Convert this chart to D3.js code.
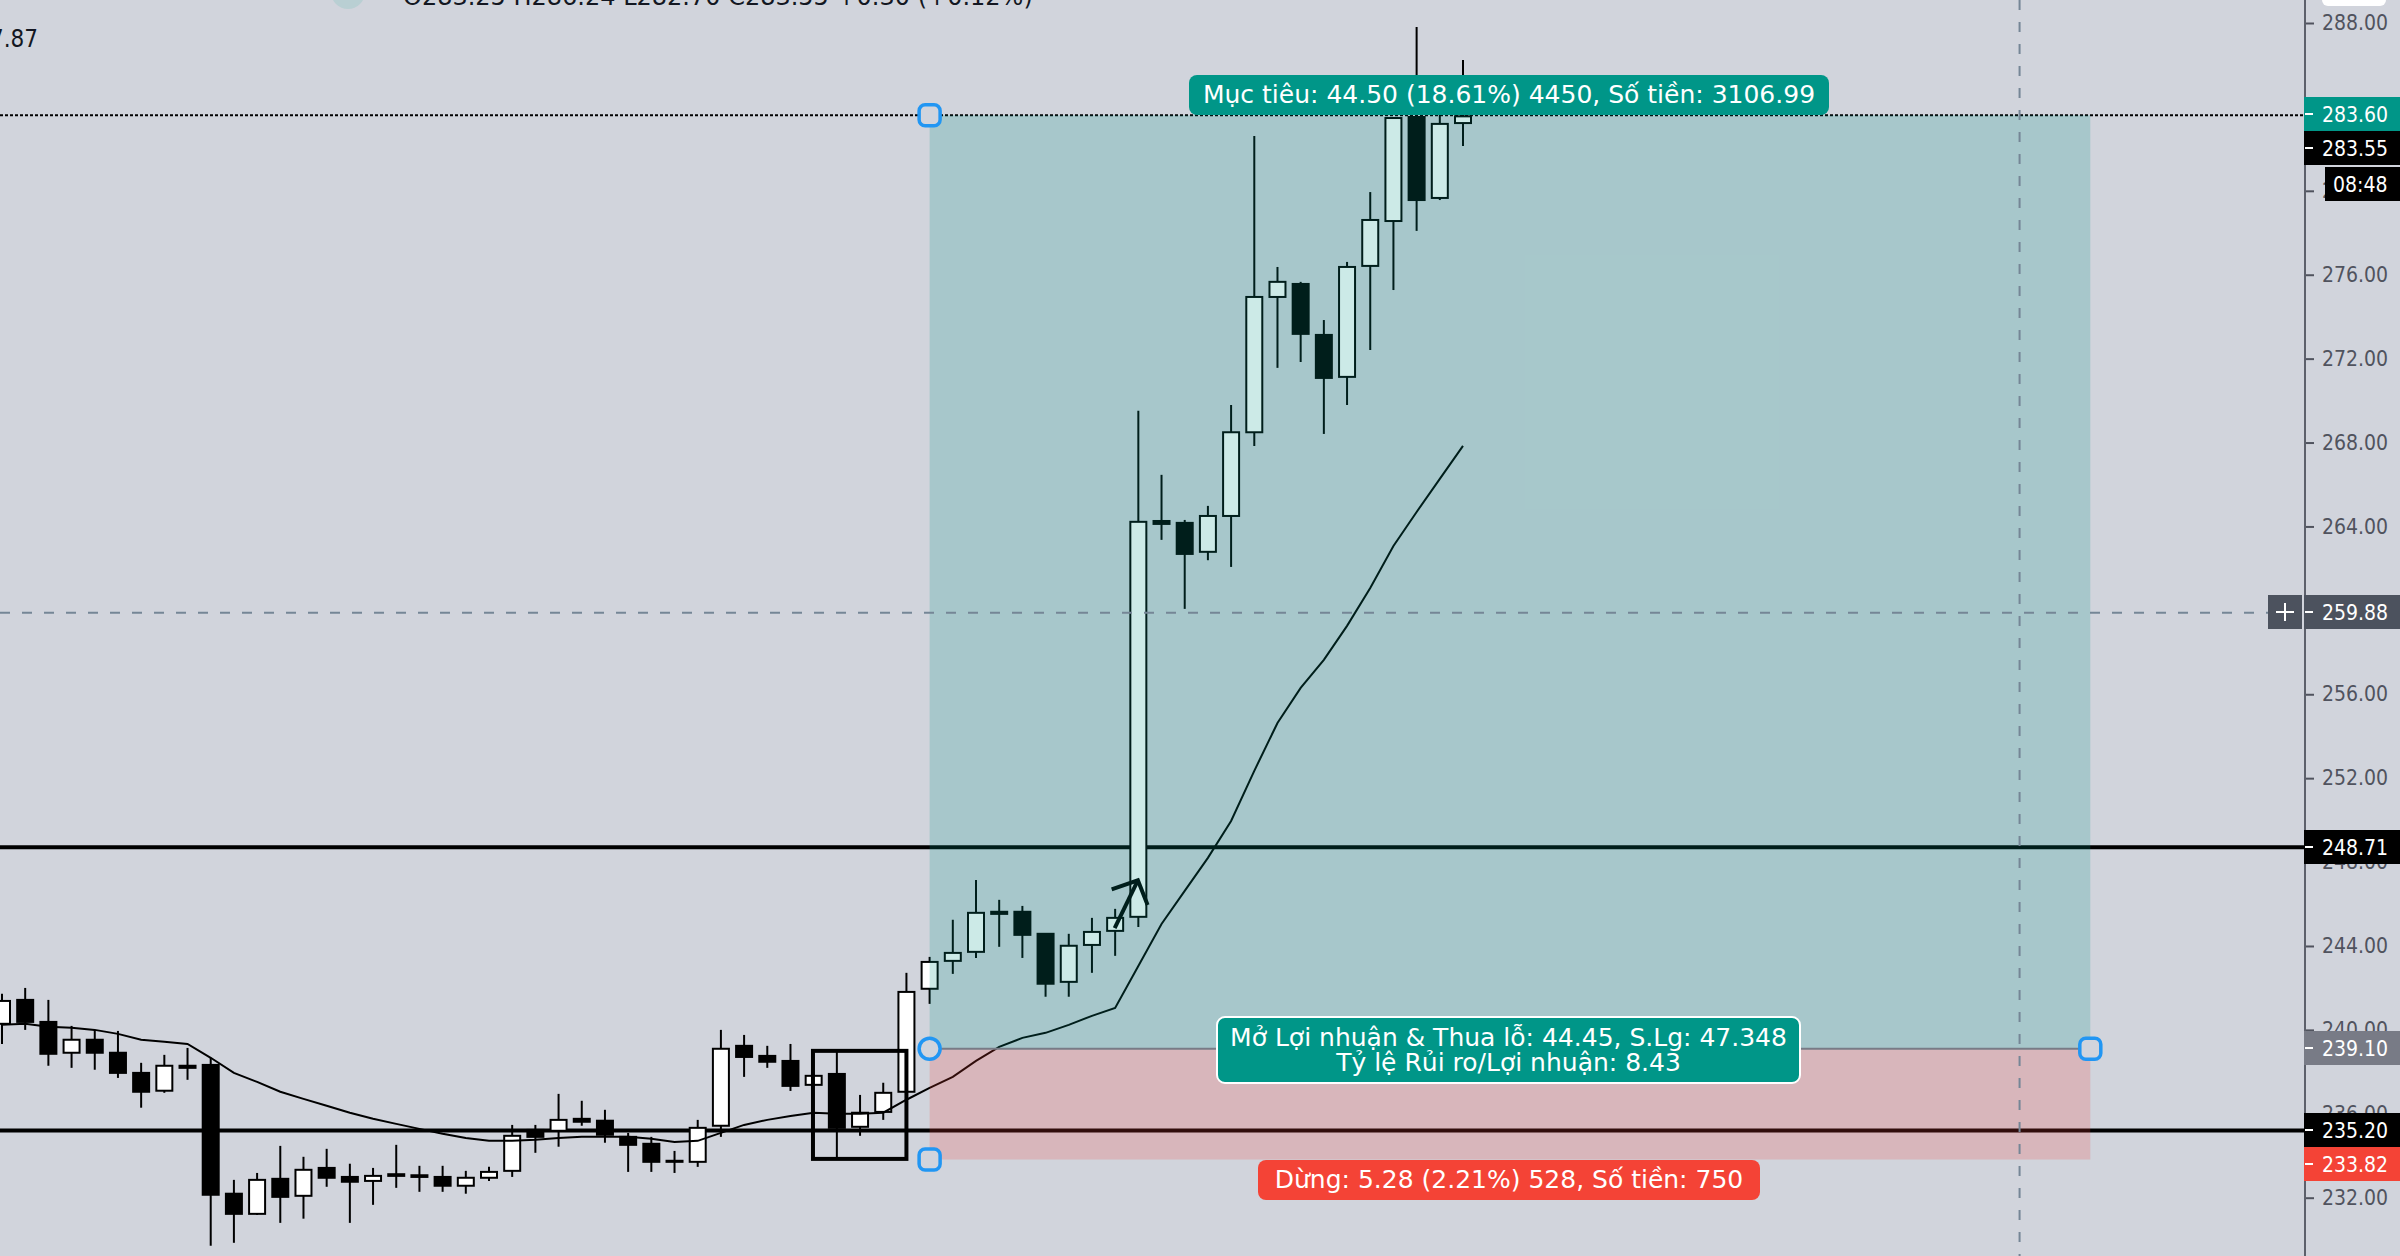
<!DOCTYPE html>
<html>

    <head>
        <meta charset="utf-8">
        <title>Position chart</title>
        <script src="https://d3js.org/d3.v7.min.js"></script>
        <style>
            html, body { margin: 0; padding: 0; background: #d1d4dc; overflow: hidden; }
            text { font-family: "DejaVu Sans Condensed", "DejaVu Sans", sans-serif; font-stretch: condensed; }
            text.wide { font-family: "DejaVu Sans", sans-serif; font-stretch: normal; }
        </style>
    </head>

    <body>
        <div id="chart-container"></div>

        <script>
            // Candles
            const open = [240.29,241.43,240.38,238.91,239.53,238.91,237.95,237.10,238.29,238.33,232.19,231.23,232.90,232.09,233.42,232.99,232.80,233.12,233.07,232.99,232.57,232.95,233.28,235.23,235.19,235.76,235.67,234.90,234.57,233.76,233.71,235.43,239.24,238.76,238.52,237.38,237.90,235.38,236.09,237.05,241.96,243.29,243.72,245.63,245.63,244.58,242.29,244.05,244.72,245.39,264.26,264.17,262.79,264.50,268.49,274.94,275.56,273.13,271.13,276.42,278.56,283.52,279.66,283.23];
            const high = [241.72,242.00,241.43,240.19,240.00,239.95,238.43,238.81,239.14,238.67,232.85,233.18,234.47,233.95,234.33,233.62,233.42,234.52,233.52,233.52,233.28,233.47,235.47,235.47,236.95,236.62,236.19,235.09,234.90,234.23,235.71,240.00,239.76,239.24,239.33,237.81,239.00,236.90,237.48,242.72,243.48,245.25,247.15,246.20,245.91,244.58,244.58,245.34,245.77,269.51,266.46,264.31,264.98,269.79,282.61,276.37,275.66,273.84,276.61,279.94,283.52,287.81,283.66,286.24];
            const low = [239.33,240.00,238.29,238.19,238.10,237.71,236.29,237.00,237.62,229.71,229.85,231.18,230.80,231.00,232.52,230.80,231.66,232.47,232.28,232.28,232.19,232.80,232.99,234.14,234.43,235.43,234.62,233.23,233.23,233.18,233.47,234.90,237.76,238.19,237.09,237.38,233.90,234.95,235.71,237.05,241.24,242.67,243.43,243.96,243.43,241.58,241.58,242.72,243.53,244.91,263.36,260.07,262.39,262.07,267.84,271.56,271.84,268.41,269.79,272.41,275.27,278.09,279.56,282.14];
            const close = [241.38,240.38,238.86,239.53,238.91,237.95,237.05,238.29,238.19,232.14,231.23,232.85,232.04,233.33,232.95,232.76,233.04,233.04,232.99,232.57,232.95,233.23,234.95,234.90,235.71,235.62,235.00,234.52,233.71,233.71,235.33,239.10,238.71,238.48,237.33,237.81,235.33,236.05,237.00,241.81,243.24,243.67,245.58,245.53,244.53,242.20,244.01,244.67,245.34,264.22,264.12,262.69,264.50,268.49,274.94,275.66,273.18,271.08,276.37,278.61,283.47,279.56,283.19,283.55];
            const ma = [240.24,240.29,240.15,240.10,240.00,239.81,239.53,239.43,239.33,238.67,237.95,237.52,237.05,236.71,236.38,236.05,235.76,235.52,235.28,235.05,234.85,234.71,234.71,234.76,234.85,234.90,234.90,234.90,234.81,234.66,234.71,235.09,235.47,235.71,235.90,236.05,236.00,236.00,236.05,236.67,237.24,237.76,238.52,239.19,239.62,239.86,240.24,240.67,241.05,243.05,245.05,246.63,248.20,249.96,252.35,254.63,256.30,257.64,259.26,261.07,263.07,264.69,266.27,267.84];

            // Price axis
            const priceTicks = [232, 236, 240, 244, 248, 252, 256, 260, 264, 268, 272, 276, 280, 284, 288];

            // Position tool and drawn levels
            const entryPrice = 239.10;
            const targetPrice = 283.60;
            const stopPrice = 233.82;
            const levels = [248.71, 235.20];
            const crosshairPrice = 259.88;
            const crosshairBar = 87.0;
            const positionBars = [40, 90.05];

            // Hand drawn box and arrow, as [bar, price]
            const boxCorners = [[34.97, 239.00], [39.0, 233.85]];
            const arrowPath = [[47.98, 244.85], [48.98, 247.13]];
            const arrowHead = [[47.85, 246.70], [48.98, 247.13], [49.4, 245.95]];

            // Price tags on the axis
            const priceTags = [
                { text: "283.60", mid: 114, fill: "#009688" },
                { text: "283.55", mid: 148, fill: "#000000" },
                { text: "248.71", mid: 847, fill: "#000000" },
                { text: "239.10", mid: 1048, fill: "#787b86" },
                { text: "235.20", mid: 1130, fill: "#000000" },
                { text: "233.82", mid: 1164, fill: "#f44336" },
                { text: "259.88", mid: 612, fill: "#4c525e" },
            ];

            const width = 2400;
            const height = 1256;
            const axisX = 2305;
            const bg = "#d1d4dc";

            const x = d3.scaleLinear().domain( [0, 63] ).range( [2, 1463] );
            const y = d3.scaleLinear().domain( [288, 232] ).range( [23, 1197.7] );

            const svg = d3.select( "#chart-container" )
                .append( "svg" )
                .attr( "width", width )
                .attr( "height", height )
                .style( "display", "block" )
                .style( "background", bg );

            // Dotted line at the last target level
            svg.append( "line" )
                .attr( "x1", 0 ).attr( "x2", axisX )
                .attr( "y1", y( targetPrice ) ).attr( "y2", y( targetPrice ) )
                .attr( "stroke", "#000" ).attr( "stroke-width", 2 )
                .attr( "stroke-dasharray", "3 2" );

            // Horizontal levels
            svg.selectAll( ".level" )
                .data( levels )
                .enter()
                .append( "line" )
                .attr( "class", "level" )
                .attr( "x1", 0 ).attr( "x2", axisX )
                .attr( "y1", d => y( d ) ).attr( "y2", d => y( d ) )
                .attr( "stroke", "#000" ).attr( "stroke-width", 4 );

            // Candles
            const bars = d3.range( open.length );
            svg.selectAll( ".wick" )
                .data( bars )
                .enter()
                .append( "line" )
                .attr( "class", "wick" )
                .attr( "x1", i => x( i ) ).attr( "x2", i => x( i ) )
                .attr( "y1", i => y( high[i] ) ).attr( "y2", i => y( low[i] ) )
                .attr( "stroke", "#000" ).attr( "stroke-width", 2 );

            svg.selectAll( ".body" )
                .data( bars )
                .enter()
                .append( "rect" )
                .attr( "class", "body" )
                .attr( "x", i => x( i ) - 8 )
                .attr( "width", 16 )
                .attr( "y", i => y( Math.max( open[i], close[i] ) ) )
                .attr( "height", i => Math.abs( y( open[i] ) - y( close[i] ) ) )
                .attr( "fill", i => close[i] >= open[i] ? "#fff" : "#000" )
                .attr( "stroke", "#000" ).attr( "stroke-width", 2 );

            // Moving average
            const maLine = d3.line().x( ( d, i ) => x( i ) ).y( d => y( d ) );
            svg.append( "path" )
                .attr( "d", maLine( ma ) )
                .attr( "fill", "none" )
                .attr( "stroke", "#000" ).attr( "stroke-width", 2 );

            // Box and arrow
            svg.append( "rect" )
                .attr( "x", x( boxCorners[0][0] ) )
                .attr( "y", y( boxCorners[0][1] ) )
                .attr( "width", x( boxCorners[1][0] ) - x( boxCorners[0][0] ) )
                .attr( "height", y( boxCorners[1][1] ) - y( boxCorners[0][1] ) )
                .attr( "fill", "none" )
                .attr( "stroke", "#000" ).attr( "stroke-width", 4 );

            const penLine = d3.line().x( d => x( d[0] ) ).y( d => y( d[1] ) );
            [arrowPath, arrowHead].forEach( points =>
            {
                svg.append( "path" )
                    .attr( "d", penLine( points ) )
                    .attr( "fill", "none" )
                    .attr( "stroke", "#000" ).attr( "stroke-width", 4 );
            } );

            // Position zones go over the candles
            const zoneLeft = x( positionBars[0] );
            const zoneRight = x( positionBars[1] );
            svg.append( "rect" )
                .attr( "x", zoneLeft ).attr( "width", zoneRight - zoneLeft )
                .attr( "y", y( targetPrice ) ).attr( "height", y( entryPrice ) - y( targetPrice ) )
                .attr( "fill", "#009688" ).attr( "fill-opacity", 0.2 );
            svg.append( "rect" )
                .attr( "x", zoneLeft ).attr( "width", zoneRight - zoneLeft )
                .attr( "y", y( entryPrice ) ).attr( "height", y( stopPrice ) - y( entryPrice ) )
                .attr( "fill", "#f44336" ).attr( "fill-opacity", 0.2 );
            svg.append( "line" )
                .attr( "x1", zoneLeft ).attr( "x2", zoneRight )
                .attr( "y1", y( entryPrice ) ).attr( "y2", y( entryPrice ) )
                .attr( "stroke", "#787b86" ).attr( "stroke-width", 2 );

            // Crosshair
            svg.append( "line" )
                .attr( "x1", 0 ).attr( "x2", axisX - 37 )
                .attr( "y1", y( crosshairPrice ) ).attr( "y2", y( crosshairPrice ) )
                .attr( "stroke", "#758696" ).attr( "stroke-width", 2 )
                .attr( "stroke-dasharray", "10 12" );
            svg.append( "line" )
                .attr( "x1", x( crosshairBar ) ).attr( "x2", x( crosshairBar ) )
                .attr( "y1", 0 ).attr( "y2", height )
                .attr( "stroke", "#758696" ).attr( "stroke-width", 2 )
                .attr( "stroke-dasharray", "10 12" );

            // Handles
            const handle = { stroke: "#2196f3", size: 21 };
            [[zoneLeft, targetPrice], [zoneLeft, stopPrice], [zoneRight, entryPrice]].forEach( d =>
            {
                svg.append( "rect" )
                    .attr( "x", d[0] - handle.size / 2 )
                    .attr( "y", y( d[1] ) - handle.size / 2 )
                    .attr( "width", handle.size ).attr( "height", handle.size )
                    .attr( "rx", 6 )
                    .attr( "fill", bg )
                    .attr( "stroke", handle.stroke ).attr( "stroke-width", 3.5 );
            } );
            svg.append( "circle" )
                .attr( "cx", zoneLeft ).attr( "cy", y( entryPrice ) ).attr( "r", 10.5 )
                .attr( "fill", bg )
                .attr( "stroke", handle.stroke ).attr( "stroke-width", 3.5 );

            // Labels of the position tool
            function label ( left, right, top, bottom, fill, lines, outlined )
            {
                svg.append( "rect" )
                    .attr( "x", left ).attr( "y", top )
                    .attr( "width", right - left ).attr( "height", bottom - top )
                    .attr( "rx", 8 )
                    .attr( "fill", fill )
                    .attr( "stroke", outlined ? "#fff" : "none" )
                    .attr( "stroke-width", 2 );
                lines.forEach( ( line, i ) =>
                {
                    svg.append( "text" )
                        .attr( "class", "wide" )
                        .attr( "x", ( left + right ) / 2 )
                        .attr( "y", ( top + bottom ) / 2 + ( i - ( lines.length - 1 ) / 2 ) * 25 + 8 )
                        .attr( "text-anchor", "middle" )
                        .attr( "font-size", 25 )
                        .attr( "fill", "#fff" )
                        .text( line );
                } );
            }
            label( 1189, 1829, 75, 115, "#009688", ["Mục tiêu: 44.50 (18.61%) 4450, Số tiền: 3106.99"], false );
            label( 1217, 1800, 1017, 1083, "#009688", ["Mở Lợi nhuận & Thua lỗ: 44.45, S.Lg: 47.348", "Tỷ lệ Rủi ro/Lợi nhuận: 8.43"], true );
            label( 1258, 1760, 1160, 1200, "#f44336", ["Dừng: 5.28 (2.21%) 528, Số tiền: 750"], false );

            // Price axis
            const axis = d3.axisRight( y )
                .tickValues( priceTicks )
                .tickFormat( d3.format( ".2f" ) )
                .tickSize( 9 )
                .tickPadding( 8 );
            const axisGroup = svg.append( "g" )
                .attr( "transform", "translate(" + axisX + ",0)" )
                .call( axis );
            axisGroup.select( ".domain" ).remove();
            axisGroup.selectAll( "line" ).attr( "stroke", "#50535e" ).attr( "stroke-width", 2 );
            axisGroup.selectAll( "text" )
                .attr( "fill", "#50535e" )
                .attr( "font-size", 21 )
                .attr( "font-family", null );
            svg.append( "line" )
                .attr( "x1", axisX ).attr( "x2", axisX )
                .attr( "y1", 0 ).attr( "y2", height )
                .attr( "stroke", "#5d606b" ).attr( "stroke-width", 2 );

            // Tags on the axis
            priceTags.forEach( tag =>
            {
                svg.append( "rect" )
                    .attr( "x", axisX - 1 ).attr( "y", tag.mid - 17 )
                    .attr( "width", width - axisX + 1 ).attr( "height", 34 )
                    .attr( "fill", tag.fill );
                svg.append( "line" )
                    .attr( "x1", axisX ).attr( "x2", axisX + 8 )
                    .attr( "y1", tag.mid ).attr( "y2", tag.mid )
                    .attr( "stroke", "#fff" ).attr( "stroke-width", 2 );
                svg.append( "text" )
                    .attr( "x", axisX + 17 ).attr( "y", tag.mid + 8 )
                    .attr( "font-size", 21 )
                    .attr( "fill", "#fff" )
                    .text( tag.text );
            } );

            // Countdown under the last price
            svg.append( "rect" )
                .attr( "x", 2325 ).attr( "y", 167 ).attr( "width", 75 ).attr( "height", 34 )
                .attr( "fill", "#000" );
            svg.append( "text" )
                .attr( "x", 2333 ).attr( "y", 192 )
                .attr( "font-size", 21 )
                .attr( "fill", "#fff" )
                .text( "08:48" );

            // Crosshair plus button
            svg.append( "rect" )
                .attr( "x", 2268 ).attr( "y", 595 ).attr( "width", 34 ).attr( "height", 34 )
                .attr( "fill", "#4c525e" );
            svg.append( "path" )
                .attr( "d", "M2276,612H2294M2285,603V621" )
                .attr( "stroke", "#fff" ).attr( "stroke-width", 2 );

            // Clipped bits along the top edge
            svg.append( "rect" )
                .attr( "x", 2322 ).attr( "y", -20 ).attr( "width", 64 ).attr( "height", 26 ).attr( "rx", 6 )
                .attr( "fill", "#fff" );
            svg.append( "circle" )
                .attr( "cx", 348 ).attr( "cy", -8 ).attr( "r", 17 )
                .attr( "fill", "#b9cfd3" );
            svg.append( "text" )
                .attr( "class", "wide" )
                .attr( "x", 403 ).attr( "y", 5 )
                .attr( "font-size", 24 )
                .attr( "fill", "#131722" )
                .text( "O283.25 H286.24 L282.70 C283.55 +0.30 (+0.12%)" );
            svg.append( "text" )
                .attr( "x", -10 ).attr( "y", 47 )
                .attr( "font-size", 24 )
                .attr( "fill", "#131722" )
                .text( "7.87" );
        </script>
    </body>

</html>
